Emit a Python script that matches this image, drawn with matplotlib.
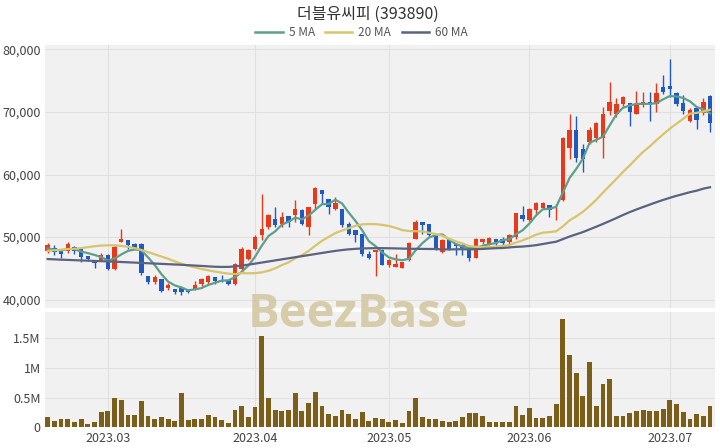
import matplotlib
matplotlib.use("Agg")
import numpy as np
import pandas as pd
import matplotlib.pyplot as plt
from matplotlib.lines import Line2D

plt.rcParams['font.family'] = ['Noto Sans CJK KR', 'DejaVu Sans']

title = '더블유씨피 (393890)'
holidays = ['2023-03-01', '2023-05-01', '2023-05-05', '2023-06-06']
dates = pd.bdate_range('2023-02-16', '2023-07-11', freq='C', holidays=holidays)

opens = [47780, 48300, 47880, 47780, 48420, 48150, 46980, 46290, 46290, 47190,
         44950, 49220, 49590, 48950, 48950, 43730, 42820, 43350, 41860, 41750,
         41860, 41650, 41650, 42450, 42760, 43620, 43190, 43190, 42560, 44960,
         46550, 48150, 50290, 51620, 52950, 52150, 53320, 53480, 54290, 51620,
         55350, 57490, 56150, 54550, 54550, 52150, 51080, 50560, 47360, 47620,
         47990, 45480, 45220, 45060, 46290, 49750, 52420, 52040, 50130, 47620,
         49490, 48850, 48690, 48150, 46710, 49220, 48960, 49750, 49750, 49220,
         50020, 53480, 52800, 54280, 54600, 55080, 54290, 55990, 64300, 67180,
         64140, 65220, 65860, 65910, 70130, 69650, 71350, 71460, 69750, 71080,
         71620, 71200, 73990, 74120, 73060, 71400, 68580, 70600, 69860, 72550]
highs = [49060, 48690, 47900, 49170, 48530, 48260, 47000, 46300, 47460, 47300,
         48690, 51250, 49600, 49000, 49060, 43750, 43890, 43360, 42660, 41760,
         41870, 41660, 42980, 43510, 44020, 43630, 43890, 43200, 45800, 48420,
         48150, 50290, 56950, 53750, 54820, 54020, 53330, 55990, 54550, 54850,
         57950, 57500, 56160, 56420, 54560, 52420, 51090, 50570, 47780, 48000,
         48150, 46550, 47250, 46050, 49220, 52790, 52430, 52050, 50140, 49760,
         49750, 48860, 48960, 48160, 49860, 49760, 50020, 49760, 50020, 50560,
         53900, 54930, 54660, 55620, 55600, 55090, 55240, 65950, 69640, 69320,
         64830, 67600, 68410, 70810, 74820, 72300, 72620, 71470, 73380, 73220,
         73220, 74660, 75870, 78450, 73220, 72670, 70590, 70610, 72250, 72650]
lows = [47510, 47190, 46710, 47510, 47240, 46020, 46200, 45110, 46130, 44800,
        44790, 49220, 48150, 48150, 43890, 42560, 42560, 41220, 41490, 40850,
        40690, 41110, 41490, 42180, 42480, 42560, 42820, 42400, 42290, 44420,
        46290, 47880, 49490, 51350, 51620, 51620, 51620, 52420, 51880, 50290,
        54550, 55350, 53750, 54390, 51620, 50290, 49230, 46930, 46550, 43800,
        45480, 45220, 45220, 45000, 46180, 49650, 50560, 50020, 47890, 47460,
        47990, 47090, 47090, 46180, 46660, 48850, 48690, 48690, 48690, 48960,
        49750, 52580, 52580, 53750, 54500, 53230, 52790, 55800, 62540, 62020,
        60400, 64940, 65220, 62700, 69480, 69220, 70940, 67720, 69700, 70800,
        68570, 70000, 72890, 72410, 71030, 69750, 68470, 67240, 69590, 66780]
closes = [48790, 47620, 47350, 48850, 47780, 46820, 46450, 45860, 47190, 44950,
          48420, 49750, 48690, 48310, 44300, 42820, 43620, 41380, 42390, 41220,
          41220, 41220, 42290, 43350, 43730, 42930, 42930, 42560, 45760, 48150,
          47880, 50020, 51350, 53480, 51880, 53220, 52420, 54550, 52150, 54820,
          57910, 56850, 54820, 55460, 51880, 50560, 50290, 47360, 46720, 47900,
          45590, 46290, 45750, 46020, 49060, 52420, 51890, 50290, 47990, 49590,
          48150, 48530, 48310, 46710, 49750, 49750, 49860, 49220, 49060, 50400,
          53860, 52950, 54550, 55520, 55400, 54290, 54390, 65910, 67180, 62700,
          62540, 67070, 68250, 69750, 71620, 71350, 72410, 70010, 71080, 71620,
          71350, 72950, 73180, 73590, 71300, 70130, 70290, 68680, 71670, 68170]
volumes = [180000, 110000, 140000, 140000, 100000, 140000, 60000, 90000, 260000, 280000,
           500000, 470000, 210000, 210000, 440000, 190000, 140000, 180000, 150000, 110000,
           580000, 130000, 140000, 140000, 210000, 170000, 125000, 70000, 300000, 370000,
           170000, 340000, 1545000, 490000, 300000, 280000, 290000, 585000, 280000, 410000,
           600000, 370000, 230000, 190000, 300000, 220000, 140000, 260000, 110000, 160000,
           140000, 85000, 125000, 70000, 270000, 500000, 180000, 140000, 140000, 110000,
           100000, 110000, 180000, 250000, 250000, 190000, 85000, 85000, 85000, 90000,
           370000, 210000, 320000, 165000, 165000, 190000, 390000, 1820000, 1220000, 910000,
           530000, 1100000, 360000, 730000, 820000, 200000, 190000, 240000, 280000, 300000,
           280000, 280000, 310000, 460000, 400000, 260000, 150000, 220000, 190000, 360000]

ma5_head = [48200, 48000, 47850, 48100]
ma20_head = [47800, 47900, 48000, 48100, 48150, 48250, 48400, 48550, 48650, 48700,
             48700, 48600, 48450, 48250, 47950, 47600, 47250, 46900, 46550]
ma60_head = [46500, 46450, 46400, 46360, 46320, 46280, 46240, 46200, 46160, 46120,
             46080, 46030, 45980, 45930, 45880, 45830, 45780, 45730, 45680, 45630,
             45580, 45520, 45460, 45400, 45330, 45270, 45240, 45250, 45320, 45450,
             45600, 45770, 45940, 46110, 46280, 46450, 46620, 46790, 46960, 47130,
             47300, 47470, 47640, 47800, 47940, 48050, 48130, 48190, 48220, 48240,
             48240, 48220, 48200, 48170, 48150, 48130, 48120, 48110, 48100]

ma_windows = [5, 20, 60]
ma_labels = ['5 MA', '20 MA', '60 MA']
ma_heads = [ma5_head, ma20_head, ma60_head]
ma_colors = ['#5e9f8b', '#d8c46c', '#5a6480']

UP = '#e8391a'
DOWN = '#2059c4'
VOL = '#7b5e17'
BG = '#f1f1f1'
GRID = '#e0e0e0'

o = np.array(opens, float)
h = np.array(highs, float)
l = np.array(lows, float)
c = np.array(closes, float)
v = np.array(volumes, float)
x = np.arange(len(dates))
up = c >= o
cols = np.where(up, UP, DOWN)

fig = plt.figure(figsize=(7.2, 4.48), dpi=100)
ax = fig.add_axes([0.0625, 0.3114, 0.9306, 0.5882])
axv = fig.add_axes([0.0625, 0.0458, 0.9306, 0.2571], sharex=ax)

for a in (ax, axv):
    a.set_facecolor(BG)
    for s in a.spines.values():
        s.set_visible(False)
    a.grid(True, color=GRID, lw=0.8)
    a.set_axisbelow(True)
    a.tick_params(length=0, labelsize=9, labelcolor='#444444', pad=3)

# candles
ax.vlines(x, l, h, color=cols, lw=1.0, zorder=2)
body_bottom = np.minimum(o, c)
body_h = np.maximum(np.abs(c - o), 80)
ax.bar(x, body_h, bottom=body_bottom, width=0.66, color=cols, lw=0, zorder=3)

# moving averages
cs = pd.Series(c)
for n, head, col, lab in zip(ma_windows, ma_heads, ma_colors, ma_labels):
    ma = cs.rolling(n).mean().to_numpy()
    ma[:n - 1] = head
    ax.plot(x, ma, color=col, lw=1.6, zorder=4, label=lab)

ax.set_ylim(38600, 80700)
ax.set_yticks([40000, 50000, 60000, 70000, 80000])
ax.set_yticklabels([f'{t:,}' for t in [40000, 50000, 60000, 70000, 80000]])
ax.tick_params(axis='x', labelbottom=False)

# volume
axv.bar(x, v, width=0.72, color=VOL, lw=0, zorder=3)
axv.set_ylim(0, 1.94e6)
axv.set_yticks([0, 5e5, 1e6, 1.5e6])
axv.set_yticklabels(['0', '0.5M', '1M', '1.5M'])

month_idx = [i for i in range(1, len(dates)) if dates[i].month != dates[i - 1].month]
axv.set_xticks(month_idx)
axv.set_xticklabels([dates[i].strftime('%Y.%m') for i in month_idx])
axv.set_xlim(-0.4, 99.75)

fig.text(0.511, 0.969, title, ha='center', va='center', fontsize=11.5, color='#333333')
handles = [Line2D([0], [0], color=col, lw=1.8) for col in ma_colors]
fig.legend(handles, ma_labels, loc='center', bbox_to_anchor=(0.502, 1 - 33 / 448), ncol=3,
           frameon=False, fontsize=8.5, handlelength=2.3, handletextpad=0.5,
           columnspacing=0.9, labelcolor='#555555')

fig.text(0.498, 1 - 327 / 448, 'BeezBase', ha='center', va='baseline', fontsize=34,
         fontweight='bold', color='#d3c8a2', alpha=0.9, zorder=10,
         family=['Open Sans', 'DejaVu Sans'])

fig.savefig('out.png', dpi=100, facecolor='white')
